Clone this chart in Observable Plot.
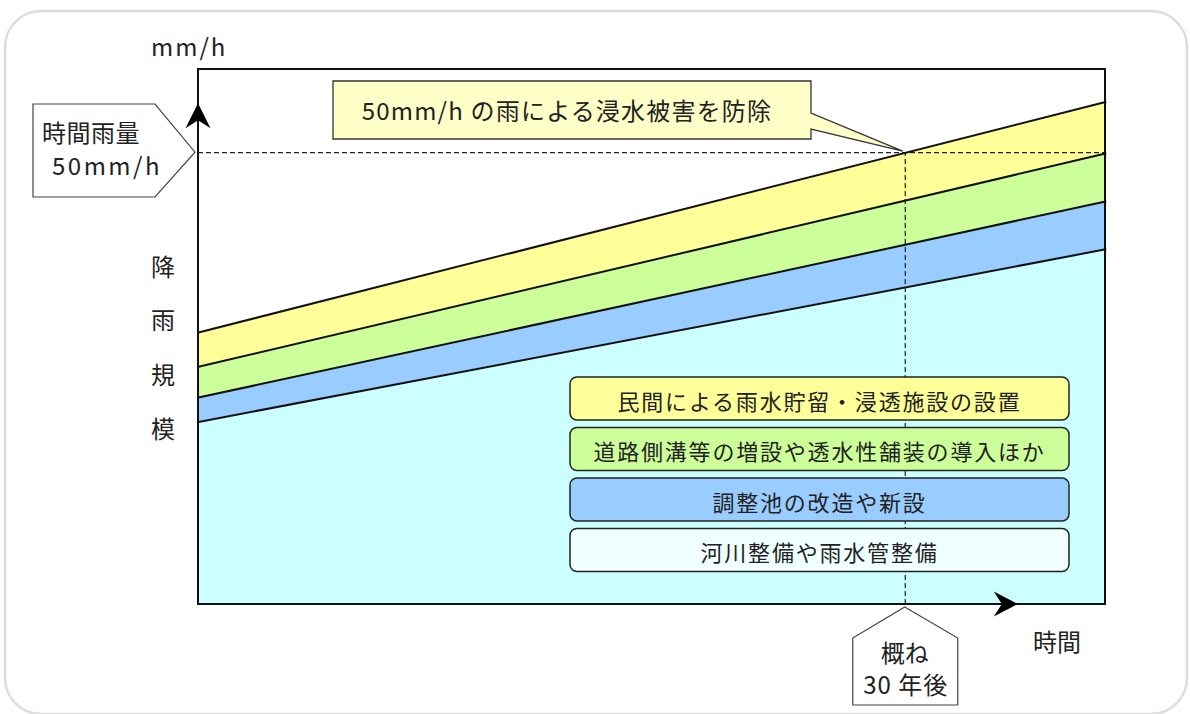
<!DOCTYPE html>
<html><head><meta charset="utf-8">
<script src="https://cdn.jsdelivr.net/npm/d3@7"></script>
<script src="https://cdn.jsdelivr.net/npm/@observablehq/plot@0.6"></script>
<style>
body{margin:0;background:#fff;}
#chart svg text{font-family:"Noto Sans CJK JP","Noto Sans",sans-serif;fill:#222;}
</style>
</head><body><div id="chart"></div>
<script>
// ---- data (x: years, y: rainfall scale in mm/h) ----
const timeYears = [0, 38.5];
const privateStorageTop = [30.1, 55.6];   // 民間による雨水貯留・浸透施設
const roadDrainTop = [26.3, 49.9];        // 道路側溝等
const pondTop = [22.9, 44.6];             // 調整池
const riverTop = [20.2, 39.3];            // 河川整備・雨水管
const targetRain = 50;                    // 時間雨量 50mm/h
const targetYear = 30;                    // 概ね30年後
const yArrowTip = 55.4;
const xArrowTip = 34.8;
const legendLabels = [
  "民間による雨水貯留・浸透施設の設置",
  "道路側溝等の増設や透水性舗装の導入ほか",
  "調整池の改造や新設",
  "河川整備や雨水管整備"
];
const bandColors = ["#ffff99", "#ccff99", "#99ccff", "#ccffff"];
const legendFills = ["#ffff99", "#ccff99", "#99ccff", "#f0ffff"];
const yUnitLabel = "mm/h";
const yAxisLabel = ["降", "雨", "規", "模"];
const xAxisLabel = "時間";
const calloutText = "50mm/h の雨による浸水被害を防除";
const rainMarkerText = ["時間雨量", "50mm/h"];
const yearMarkerText = ["概ね", "30 年後"];

const rows = timeYears.map((t, i) => ({
  t, a: privateStorageTop[i], b: roadDrainTop[i], c: pondTop[i], d: riverTop[i], zero: 0
}));

const lineStyle = {x: "t", stroke: "#111", strokeWidth: 2};
const chart = Plot.plot({
  width: 1190, height: 714,
  marginLeft: 198, marginRight: 85, marginTop: 69, marginBottom: 110,
  x: {domain: [0, 38.5], axis: null},
  y: {domain: [0, 59.2], axis: null},
  marks: [
    Plot.areaY(rows, {x: "t", y1: "b", y2: "a", fill: bandColors[0]}),
    Plot.areaY(rows, {x: "t", y1: "c", y2: "b", fill: bandColors[1]}),
    Plot.areaY(rows, {x: "t", y1: "d", y2: "c", fill: bandColors[2]}),
    Plot.areaY(rows, {x: "t", y1: "zero", y2: "d", fill: bandColors[3]}),
    Plot.ruleY([targetRain], {stroke: "#222", strokeWidth: 1.2, strokeDasharray: "5,3"}),
    Plot.ruleX([targetYear], {y1: 0, y2: targetRain, stroke: "#222", strokeWidth: 1.2, strokeDasharray: "5,3"}),
    Plot.line(rows, {...lineStyle, y: "a"}),
    Plot.line(rows, {...lineStyle, y: "b"}),
    Plot.line(rows, {...lineStyle, y: "c"}),
    Plot.line(rows, {...lineStyle, y: "d"})
  ]
});
document.getElementById("chart").appendChild(chart);

const X = chart.scale("x").apply, Y = chart.scale("y").apply;
const svg = d3.select(chart);
const x0 = X(0), x1 = X(38.5), y0 = Y(0), y1 = Y(59.2);

function label(x, y, txt, size, anchor, spacing) {
  return svg.append("text").attr("x", x).attr("y", y)
    .attr("text-anchor", anchor).attr("dominant-baseline", "central")
    .attr("font-size", size).attr("letter-spacing", spacing || 0).text(txt);
}

// outer rounded panel (behind everything)
svg.insert("rect", ":first-child")
  .attr("x", 5).attr("y", 11).attr("width", 1182).attr("height", 703).attr("rx", 36)
  .attr("fill", "#fff").attr("stroke", "#dddddd").attr("stroke-width", 2.5);

// legend boxes
const boxTop = 377, boxH = 43, boxGap = 50.5, boxX = 570, boxW = 499;
legendLabels.forEach((lab, i) => {
  const y = boxTop + i * boxGap;
  svg.append("rect").attr("x", boxX).attr("y", y).attr("width", boxW).attr("height", boxH)
    .attr("rx", 7).attr("fill", legendFills[i]).attr("stroke", "#222").attr("stroke-width", 1.5);
  label(boxX + boxW / 2, y + boxH / 2 + 1, lab, 22, "middle", 1.8);
});

// frame
svg.append("rect").attr("x", x0).attr("y", y1).attr("width", x1 - x0).attr("height", y0 - y1)
  .attr("fill", "none").attr("stroke", "#111").attr("stroke-width", 2);

// arrows
const ty = Y(yArrowTip);
svg.append("path").attr("d", `M${x0},${ty} L${x0 + 12.5},${ty + 25} L${x0},${ty + 17} L${x0 - 12.5},${ty + 25} Z`).attr("fill", "#000");
const tx = X(xArrowTip);
svg.append("path").attr("d", `M${tx},${y0} L${tx - 24},${y0 - 12.5} L${tx - 16},${y0} L${tx - 24},${y0 + 12.5} Z`).attr("fill", "#000");

// callout
const px = X(targetYear), py = Y(targetRain);
svg.append("path")
  .attr("d", `M333,81 L811,81 L811,113 L${px - 2},${py - 1} L811,129 L811,139 L333,139 Z`)
  .attr("fill", "#ffffc8").attr("stroke", "#333").attr("stroke-width", 1.3);
label(567, 109, calloutText, 24, "middle", 1.2);

// left marker (50mm/h)
svg.append("path")
  .attr("d", `M33,104 L155,104 L${x0 - 3},${py} L155,197 L33,197 Z`)
  .attr("fill", "#fff").attr("stroke", "#444").attr("stroke-width", 1.2);
label(42, 131, rainMarkerText[0], 24, "start", 0.5);
label(52, 164, rainMarkerText[1], 24, "start", 2.5);

// bottom marker (30 years)
svg.append("path")
  .attr("d", `M${px},${y0 + 3} L${px + 53},638 L${px + 53},705 L${px - 52},705 L${px - 52},638 Z`)
  .attr("fill", "#fff").attr("stroke", "#444").attr("stroke-width", 1.2);
label(px, 651, yearMarkerText[0], 24, "middle", 0);
label(px + 1, 683, yearMarkerText[1], 24, "middle", 1);

// axis labels
label(151, 45, yUnitLabel, 24, "start", 2);
const yl = [265, 318, 373, 427];
yAxisLabel.forEach((ch, i) => label(163, yl[i], ch, 24, "middle", 0));
label(1033, 640, xAxisLabel, 24, "start", 0);
</script>
</body></html>
